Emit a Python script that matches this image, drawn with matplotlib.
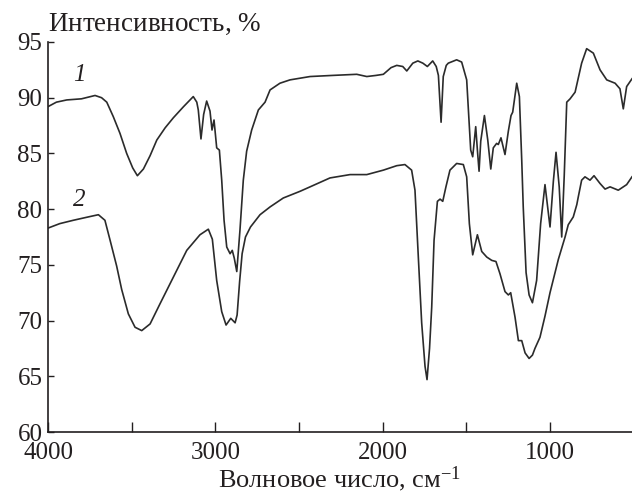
import matplotlib
matplotlib.use("Agg")
import matplotlib.pyplot as plt
from matplotlib.ticker import MultipleLocator

plt.rcParams["font.family"] = ["Liberation Serif", "DejaVu Serif"]
plt.rcParams["mathtext.fontset"] = "custom"
plt.rcParams["mathtext.rm"] = "Liberation Serif"
plt.rcParams["mathtext.it"] = "Liberation Serif:italic"

# curve 1: wavenumber (cm^-1) and intensity (%)
wn_1 = [4000, 3950, 3888, 3800, 3719, 3680, 3649, 3610, 3570, 3530, 3494, 3466,
        3430, 3390, 3350, 3300, 3251, 3190, 3132, 3111, 3102, 3086, 3070, 3052,
        3032, 3020, 3008, 2992, 2976, 2962, 2948, 2932, 2912, 2899, 2887, 2872,
        2853, 2833, 2813, 2783, 2743, 2703, 2673, 2614, 2554, 2434, 2300, 2155,
        2095, 2040, 1996, 1950, 1916, 1880, 1856, 1820, 1790, 1760, 1733, 1701,
        1680, 1667, 1651, 1638, 1620, 1608, 1558, 1528, 1498, 1482, 1474, 1462,
        1444, 1434, 1424, 1414, 1392, 1372, 1354, 1339, 1319, 1309, 1293, 1269,
        1249, 1233, 1223, 1199, 1183, 1169, 1160, 1143, 1125, 1105, 1080, 1056,
        1030, 1000, 980, 964, 945, 930, 915, 900, 880, 850, 811, 781, 741, 701,
        661, 611, 582, 562, 542, 510]
int_1 = [89.2, 89.6, 89.8, 89.9, 90.2, 90.0, 89.6, 88.3, 86.8, 85.0, 83.7, 83.0,
         83.6, 84.8, 86.2, 87.3, 88.2, 89.2, 90.1, 89.6, 88.9, 86.3, 88.5, 89.7,
         88.8, 87.1, 88.0, 85.5, 85.3, 82.6, 79.0, 76.6, 76.0, 76.3, 75.6, 74.4,
         78.1, 82.6, 85.2, 87.1, 88.9, 89.6, 90.7, 91.3, 91.6, 91.9, 92.0, 92.1,
         91.9, 92.0, 92.1, 92.7, 92.9, 92.8, 92.4, 93.1, 93.3, 93.1, 92.8, 93.3,
         92.8, 92.0, 87.8, 91.9, 92.9, 93.1, 93.4, 93.2, 91.6, 87.4, 85.3, 84.7,
         87.4, 85.3, 83.4, 86.1, 88.4, 86.2, 83.6, 85.5, 85.9, 85.8, 86.4, 84.9,
         87.0, 88.4, 88.7, 91.3, 90.1, 84.4, 80.2, 74.3, 72.3, 71.6, 73.6, 78.7,
         82.2, 78.4, 82.5, 85.1, 82.0, 77.5, 83.0, 89.6, 89.9, 90.5, 93.1, 94.4,
         94.0, 92.5, 91.6, 91.3, 90.8, 89.0, 91.0, 91.7]

# curve 2
wn_2 = [4000, 3930, 3849, 3760, 3699, 3660, 3629, 3590, 3560, 3520, 3480, 3440,
        3390, 3331, 3251, 3171, 3092, 3042, 3018, 2992, 2962, 2936, 2908, 2882,
        2870, 2855, 2840, 2820, 2790, 2733, 2673, 2594, 2494, 2434, 2315, 2195,
        2095, 1996, 1916, 1867, 1827, 1807, 1787, 1767, 1747, 1735, 1720, 1707,
        1693, 1673, 1657, 1641, 1622, 1598, 1558, 1518, 1498, 1482, 1462, 1434,
        1408, 1378, 1348, 1323, 1299, 1269, 1249, 1235, 1209, 1189, 1169, 1149,
        1125, 1105, 1090, 1060, 1030, 1000, 950, 910, 891, 861, 840, 831, 811,
        791, 761, 737, 701, 671, 641, 592, 542, 510]
int_2 = [78.3, 78.7, 79.0, 79.3, 79.5, 79.0, 77.2, 74.9, 72.8, 70.6, 69.4, 69.1,
         69.7, 71.5, 73.9, 76.3, 77.7, 78.2, 77.3, 73.6, 70.8, 69.6, 70.2, 69.8,
         70.5, 73.5, 76.0, 77.5, 78.4, 79.5, 80.2, 81.0, 81.6, 82.0, 82.8, 83.1,
         83.1, 83.5, 83.9, 84.0, 83.5, 81.7, 75.7, 69.8, 65.9, 64.7, 67.5, 71.2,
         77.2, 80.7, 80.9, 80.7, 82.0, 83.5, 84.1, 84.0, 82.9, 78.7, 75.9, 77.7,
         76.2, 75.7, 75.4, 75.3, 74.2, 72.6, 72.3, 72.5, 70.3, 68.2, 68.2, 67.1,
         66.6, 66.9, 67.5, 68.5, 70.4, 72.5, 75.5, 77.5, 78.6, 79.3, 80.4, 81.1,
         82.6, 82.9, 82.6, 83.0, 82.3, 81.8, 82.0, 81.7, 82.2, 82.9]

curve_labels = ["1", "2"]
label_pos = [(3815, 92.0), (3815, 80.8)]

x_ticks = [4000, 3000, 2000, 1000]
y_ticks = [60, 65, 70, 75, 80, 85, 90, 95]

LINE = "#2b2b2b"
INK = "#231f20"

fig = plt.figure(figsize=(6.32, 4.94), dpi=100)
ax = fig.add_axes([0.076, 0.1255, 0.924, 0.7895])

ax.plot(wn_1, int_1, color=LINE, lw=1.2)
ax.plot(wn_2, int_2, color=LINE, lw=1.2)

for text, (xp, yp) in zip(curve_labels, label_pos):
    ax.text(xp, yp, text, fontsize=18, style="italic", color=INK,
            ha="center", va="center")

ax.set_xlim(4000, 510)
ax.set_ylim(60, 95)
ax.set_xticks(x_ticks)
ax.xaxis.set_minor_locator(MultipleLocator(500))
ax.set_yticks(y_ticks)

for side in ("top", "right"):
    ax.spines[side].set_visible(False)
for side in ("left", "bottom"):
    ax.spines[side].set_linewidth(1.2)
    ax.spines[side].set_color(INK)

ax.tick_params(axis="x", which="both", direction="in", length=7, width=1.0,
               labelsize=18, pad=7, colors=INK)
ax.tick_params(axis="y", direction="in", length=4, width=1.0,
               labelsize=18, pad=4, colors=INK)

fig.text(0.076, 0.95, r"Интенсивность, $\mathit{\%}$", fontsize=19.5,
         color=INK, ha="left", va="center")
fig.text(0.538, 0.014, r"Волновое число, см$^{-1}$", fontsize=19, color=INK,
         ha="center", va="baseline")

fig.savefig("out.png", dpi=100)
